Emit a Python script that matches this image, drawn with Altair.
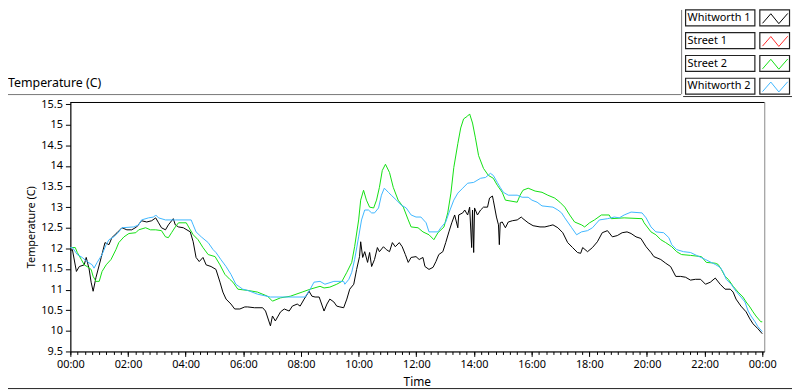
import altair as alt
import pandas as pd

# ---------------- data ----------------
series_names = ["Whitworth 1", "Street 1", "Street 2", "Whitworth 2"]
series_colors = ["#000000", "#ff2a2a", "#12e012", "#3fb6ff"]

w1_hours = [0.0, 0.07, 0.21, 0.31, 0.48, 0.55, 0.65, 0.72, 0.79, 0.89, 1.07, 1.20, 1.34, 1.44, 1.62, 1.79,
            1.96, 2.13, 2.30, 2.47, 2.65, 2.82, 2.96, 3.06, 3.16, 3.30, 3.40, 3.57, 3.64, 3.75, 3.92, 4.16,
            4.26, 4.36, 4.47, 4.60, 4.71, 4.88, 5.05, 5.19, 5.29, 5.40, 5.57, 5.70, 5.88, 6.05, 6.15, 6.39,
            6.67, 6.77, 6.94, 7.01, 7.11, 7.29, 7.42, 7.59, 7.70, 7.87, 7.97, 8.11, 8.28, 8.38, 8.49, 8.63,
            8.69, 8.80, 8.90, 9.00, 9.14, 9.24, 9.35, 9.48, 9.59, 9.69, 9.83, 9.93, 10.03, 10.07, 10.14,
            10.21, 10.31, 10.38, 10.45, 10.55, 10.65, 10.72, 10.86, 10.96, 11.07, 11.17, 11.27, 11.41,
            11.51, 11.62, 11.72, 11.82, 11.99, 12.10, 12.23, 12.30, 12.44, 12.58, 12.68, 12.78, 12.92,
            13.02, 13.13, 13.23, 13.33, 13.44, 13.47, 13.61, 13.68, 13.78, 13.85, 13.92, 13.95, 13.99,
            14.02, 14.12, 14.23, 14.33, 14.47, 14.54, 14.64, 14.67, 14.78, 14.85, 14.88, 14.91, 14.98,
            15.09, 15.19, 15.33, 15.50, 15.64, 15.70, 15.88, 16.05, 16.29, 16.46, 16.63, 16.74, 16.91,
            17.08, 17.25, 17.42, 17.59, 17.70, 17.77, 17.94, 18.11, 18.28, 18.45, 18.63, 18.80, 18.97,
            19.14, 19.31, 19.45, 19.62, 19.79, 19.97, 20.14, 20.24, 20.48, 20.65, 20.82, 21.00, 21.17,
            21.34, 21.51, 21.68, 21.86, 22.03, 22.20, 22.37, 22.54, 22.71, 22.89, 22.99, 23.09, 23.26,
            23.44, 23.57, 23.68, 23.85, 24.0]
w1_temp = [11.95, 11.97, 11.44, 11.56, 11.60, 11.78, 11.50, 11.18, 10.96, 11.30, 11.78, 12.14, 12.09, 12.26,
           12.38, 12.50, 12.45, 12.45, 12.52, 12.67, 12.64, 12.67, 12.74, 12.62, 12.50, 12.45, 12.57, 12.72,
           12.57, 12.52, 12.50, 12.40, 12.16, 11.78, 11.68, 11.78, 11.60, 11.56, 11.49, 11.18, 10.94, 10.77,
           10.65, 10.53, 10.53, 10.58, 10.58, 10.56, 10.56, 10.48, 10.12, 10.36, 10.24, 10.46, 10.53, 10.48,
           10.60, 10.65, 10.60, 10.77, 10.96, 10.84, 10.82, 10.82, 10.70, 10.48, 10.65, 10.77, 10.70, 10.60,
           10.58, 10.56, 10.77, 11.01, 11.13, 11.49, 11.80, 12.16, 11.78, 11.92, 11.66, 11.90, 11.56, 11.73,
           12.02, 11.92, 12.04, 11.97, 11.92, 12.14, 12.04, 12.14, 12.04, 11.85, 11.66, 11.78, 11.80, 11.73,
           11.78, 11.56, 11.49, 11.54, 11.68, 11.85, 11.92, 12.14, 12.40, 12.62, 12.81, 12.50, 12.81, 12.86,
           12.93, 12.81, 13.00, 12.02, 12.93, 11.90, 12.98, 12.81, 12.93, 13.00, 13.00, 13.22, 13.27, 13.17,
           12.76, 12.57, 12.09, 12.62, 12.64, 12.50, 12.64, 12.67, 12.69, 12.76, 12.72, 12.62, 12.55, 12.52,
           12.52, 12.55, 12.57, 12.50, 12.38, 12.14, 12.02, 11.90, 11.88, 12.02, 11.92, 12.02, 12.16, 12.38,
           12.43, 12.28, 12.31, 12.38, 12.40, 12.36, 12.28, 12.24, 12.04, 11.90, 11.80, 11.73, 11.64, 11.56,
           11.32, 11.32, 11.30, 11.23, 11.25, 11.25, 11.13, 11.18, 11.28, 11.13, 11.01, 11.01, 10.94, 10.77,
           10.60, 10.46, 10.29, 10.17, 10.05, 9.93]

s2_hours = [0.0, 0.17, 0.24, 0.38, 0.48, 0.58, 0.72, 0.79, 0.89, 1.00, 1.10, 1.24, 1.41, 1.58, 1.68, 1.86,
            2.03, 2.27, 2.37, 2.61, 2.78, 2.96, 3.16, 3.30, 3.40, 3.51, 3.64, 3.75, 4.02, 4.16, 4.26, 4.43,
            4.60, 4.78, 5.02, 5.19, 5.36, 5.53, 5.64, 5.81, 6.15, 6.49, 6.84, 7.01, 7.29, 7.63, 8.04, 8.32,
            8.66, 8.80, 9.00, 9.24, 9.42, 9.59, 9.76, 9.86, 10.00, 10.07, 10.17, 10.27, 10.38, 10.52, 10.62,
            10.72, 10.82, 10.93, 11.07, 11.20, 11.37, 11.55, 11.72, 11.82, 12.06, 12.23, 12.44, 12.61,
            12.75, 12.96, 13.09, 13.20, 13.30, 13.44, 13.54, 13.64, 13.78, 13.85, 13.95, 14.05, 14.16,
            14.33, 14.50, 14.67, 14.81, 14.98, 15.09, 15.50, 15.60, 15.70, 15.88, 16.12, 16.36, 16.56,
            16.80, 16.98, 17.15, 17.32, 17.49, 17.73, 17.84, 18.01, 18.18, 18.42, 18.69, 18.76, 19.21,
            19.83, 19.90, 20.14, 20.31, 20.48, 20.65, 20.86, 21.03, 21.20, 21.51, 21.89, 22.06, 22.37,
            22.47, 22.58, 22.71, 22.82, 22.99, 23.16, 23.33, 23.44, 23.57, 23.68, 23.78, 23.95, 24.0]
s2_temp = [12.02, 12.02, 11.90, 11.73, 11.60, 11.56, 11.49, 11.32, 11.20, 11.20, 11.44, 11.60, 11.73, 11.97,
           12.14, 12.28, 12.36, 12.38, 12.45, 12.50, 12.45, 12.45, 12.43, 12.28, 12.26, 12.38, 12.52, 12.62,
           12.62, 12.45, 12.33, 12.21, 12.02, 11.85, 11.80, 11.60, 11.37, 11.25, 11.18, 11.01, 10.98, 10.94,
           10.84, 10.72, 10.80, 10.84, 10.94, 11.01, 11.08, 11.04, 11.06, 11.13, 11.20, 11.42, 11.66, 12.04,
           12.69, 13.17, 13.41, 13.17, 13.00, 12.98, 13.17, 13.48, 13.89, 14.04, 13.84, 13.48, 13.17, 13.00,
           12.69, 12.52, 12.50, 12.40, 12.33, 12.21, 12.38, 12.52, 12.86, 13.34, 13.96, 14.54, 14.92, 15.14,
           15.21, 15.26, 15.04, 14.68, 14.25, 13.94, 13.77, 13.70, 13.53, 13.36, 13.17, 13.12, 13.29, 13.41,
           13.46, 13.39, 13.36, 13.29, 13.22, 13.12, 13.00, 12.81, 12.64, 12.57, 12.52, 12.62, 12.69, 12.81,
           12.81, 12.72, 12.74, 12.72, 12.62, 12.40, 12.33, 12.21, 12.14, 12.04, 11.92, 11.85, 11.83, 11.80,
           11.66, 11.64, 11.61, 11.49, 11.32, 11.25, 11.08, 10.94, 10.82, 10.70, 10.58, 10.46, 10.36, 10.22,
           10.22]

w2_hours = [0.0, 0.07, 0.24, 0.41, 0.58, 0.76, 0.82, 0.93, 1.10, 1.24, 1.34, 1.51, 1.68, 1.79, 2.20, 2.37,
            2.47, 2.71, 2.89, 2.96, 3.06, 3.30, 3.64, 4.19, 4.26, 4.36, 4.54, 4.78, 4.95, 5.05, 5.22, 5.40,
            5.57, 5.74, 5.88, 5.98, 6.15, 6.49, 6.94, 8.14, 8.32, 8.45, 8.66, 8.83, 9.14, 9.48, 9.52, 9.66,
            9.76, 9.86, 10.00, 10.10, 10.21, 10.34, 10.45, 10.55, 10.69, 10.79, 10.89, 11.03, 11.13, 11.31,
            11.48, 11.65, 11.82, 11.99, 12.16, 12.34, 12.44, 12.75, 12.85, 13.02, 13.13, 13.30, 13.44,
            13.61, 13.78, 13.99, 14.23, 14.40, 14.57, 14.67, 14.81, 14.91, 15.02, 15.19, 15.50, 15.67,
            15.88, 16.01, 16.19, 16.36, 16.74, 16.91, 17.04, 17.15, 17.39, 17.56, 17.73, 17.94, 18.11,
            18.35, 18.63, 18.87, 19.04, 19.21, 19.45, 19.83, 19.97, 20.14, 20.31, 20.58, 20.76, 20.86,
            21.03, 21.27, 21.51, 21.72, 22.03, 22.37, 22.54, 22.65, 22.75, 22.92, 23.09, 23.26, 23.40,
            23.51, 23.61, 23.75, 23.85, 24.0]
w2_temp = [12.02, 12.02, 11.85, 11.78, 11.68, 11.60, 11.52, 11.66, 11.85, 12.09, 12.21, 12.28, 12.40, 12.50,
           12.52, 12.57, 12.69, 12.74, 12.76, 12.81, 12.74, 12.69, 12.69, 12.69, 12.57, 12.40, 12.28, 12.14,
           11.97, 11.90, 11.73, 11.56, 11.37, 11.13, 11.06, 11.01, 10.98, 10.89, 10.82, 10.82, 11.01, 11.18,
           11.20, 11.13, 11.20, 11.20, 11.13, 11.25, 11.42, 11.73, 12.28, 12.69, 12.93, 12.93, 12.86, 12.86,
           12.98, 13.29, 13.46, 13.36, 13.29, 13.17, 13.05, 12.98, 12.81, 12.76, 12.76, 12.62, 12.40, 12.40,
           12.50, 12.64, 12.86, 13.17, 13.34, 13.46, 13.58, 13.60, 13.70, 13.72, 13.82, 13.77, 13.60, 13.48,
           13.36, 13.29, 13.29, 13.24, 13.24, 13.17, 13.12, 13.03, 13.00, 12.93, 12.86, 12.74, 12.50, 12.33,
           12.40, 12.43, 12.50, 12.69, 12.72, 12.76, 12.74, 12.81, 12.88, 12.86, 12.74, 12.52, 12.40, 12.38,
           12.26, 12.09, 11.97, 11.92, 11.90, 11.83, 11.73, 11.61, 11.54, 11.42, 11.25, 11.13, 10.96, 10.82,
           10.70, 10.48, 10.36, 10.22, 10.10, 9.98]

x_major_hours = list(range(0, 25, 2))
x_minor_hours = [i * 0.25 for i in range(97)]
y_ticks = [9.5 + 0.5 * i for i in range(13)]

# ---------------- tables ----------------
rows = []
for name, hs, ts in [("Whitworth 1", w1_hours, w1_temp),
                     ("Street 2", s2_hours, s2_temp),
                     ("Whitworth 2", w2_hours, w2_temp)]:
    for i, (h, t) in enumerate(zip(hs, ts)):
        rows.append({"series": name, "hours": h, "temp": t, "idx": i})
df = pd.DataFrame(rows)

leg = pd.DataFrame({"series": series_names, "top": [0, 1, 2, 3]})
leg["bottom"] = leg["top"] + 0.7
leg["mid"] = leg["top"] + 0.36

zig_fx = [0.09, 0.37, 0.64, 0.94]
zig_fy = [0.84, 0.24, 0.86, 0.22]
zig_rows = []
for r, name in enumerate(series_names):
    for k, (fx, fy) in enumerate(zip(zig_fx, zig_fy)):
        zig_rows.append({"series": name, "zx": fx, "zy": r + fy * 0.7, "k": k})
zig = pd.DataFrame(zig_rows)

one = pd.DataFrame({"k": [0]})

# ---------------- chart ----------------
PW, PH = 701, 252
FONT = "Noto Sans"
xscale = alt.Scale(domain=[0, 24.07], nice=False, zero=False)
yscale = alt.Scale(domain=[9.5, 15.55], nice=False, zero=False)
color = alt.Color("series:N", scale=alt.Scale(domain=series_names, range=series_colors), legend=None)

lines = alt.Chart(df).mark_line(strokeWidth=1).encode(
    x=alt.X("hours:Q", scale=xscale,
            axis=alt.Axis(orient="bottom", values=x_major_hours,
                          labelExpr="(datum.value % 24 < 10 ? '0' : '') + (datum.value % 24) + ':00'",
                          tickSize=5, tickColor="#000", domainColor="#000", grid=False,
                          labelFontSize=11, labelColor="#000", labelPadding=2, labelFlush=False,
                          title="Time", titleFontSize=12, titleFontWeight="normal", titleColor="#000",
                          titleX=350, titleY=34, titleAlign="center", titleBaseline="alphabetic")),
    y=alt.Y("temp:Q", scale=yscale,
            axis=alt.Axis(orient="left", values=y_ticks, labelExpr="'' + datum.value",
                          tickSize=5, tickColor="#000", domainColor="#000", grid=False,
                          labelFontSize=11, labelColor="#000", labelPadding=3,
                          title="Temperature (C)", titleFontSize=11, titleFontWeight="normal",
                          titleColor="#000", titleAngle=270, titleX=-39, titleY=126,
                          titleAlign="center", titleBaseline="middle")),
    color=color,
    order=alt.Order("idx:Q"),
)

minor = alt.Chart(df).mark_point(opacity=0).encode(
    x=alt.X("hours:Q", scale=xscale,
            axis=alt.Axis(orient="bottom", values=x_minor_hours, labels=False, tickSize=3,
                          tickColor="#000", domain=False, grid=False, title=None)),
    y=alt.Y("temp:Q", scale=yscale, axis=None),
)

def hrule(x1, x2, y, col):
    return alt.Chart(one).mark_rule(color=col, strokeWidth=1).encode(
        x=alt.value(x1), x2=alt.value(x2), y=alt.value(y))

def vrule(x, y1, y2, col):
    return alt.Chart(one).mark_rule(color=col, strokeWidth=1).encode(
        x=alt.value(x), y=alt.value(y1), y2=alt.value(y2))

frames = [
    hrule(0, PW, 0.5, "#000"),
    hrule(-63, 617, -7.5, "#777"),
    vrule(617.5, -93, -8, "#777"),
    hrule(619, 729, -5.5, "#333"),
    hrule(-63, 729, 289.5, "#222"),
]

title_txt = alt.Chart(one).mark_text(align="left", baseline="alphabetic", font=FONT,
                                     fontSize=12.5, color="#000").encode(
    x=alt.value(-63), y=alt.value(-15), text=alt.value("Temperature (C)"))

ly = alt.Scale(domain=[0, 1], range=[-93, -70], nice=False, zero=False)
label_box = alt.Chart(leg).mark_rect(fill="white", stroke="#222", strokeWidth=1.2).encode(
    x=alt.value(621.5), x2=alt.value(691.5),
    y=alt.Y("top:Q", scale=ly, axis=None), y2="bottom:Q")
icon_box = alt.Chart(leg).mark_rect(fill="white", stroke="#222", strokeWidth=1.2).encode(
    x=alt.value(696.5), x2=alt.value(726.5),
    y=alt.Y("top:Q", scale=ly, axis=None), y2="bottom:Q")
label_txt = alt.Chart(leg).mark_text(align="left", baseline="middle", font=FONT,
                                     fontSize=11, color="#000").encode(
    x=alt.value(623.5), y=alt.Y("mid:Q", scale=ly, axis=None), text="series:N")
zig_line = alt.Chart(zig).mark_line(strokeWidth=1).encode(
    x=alt.X("zx:Q", scale=alt.Scale(domain=[0, 1], range=[696.5, 726.5], nice=False, zero=False), axis=None),
    y=alt.Y("zy:Q", scale=ly, axis=None),
    color=color,
    order=alt.Order("k:Q"),
)

chart = alt.layer(
    lines, minor, *frames, title_txt, label_box, icon_box, label_txt, zig_line
).resolve_scale(
    x="independent", y="independent"
).properties(
    width=PW, height=PH,
    padding={"left": 63, "top": 93, "right": 28, "bottom": 39},
    autosize=alt.AutoSizeParams(type="none"),
    background="white",
).configure_view(
    stroke="#888", strokeWidth=1
).configure_axis(
    labelFont=FONT, titleFont=FONT
).configure_text(font=FONT)

chart.save("out.html", embed_options={"renderer": "svg", "actions": False})
